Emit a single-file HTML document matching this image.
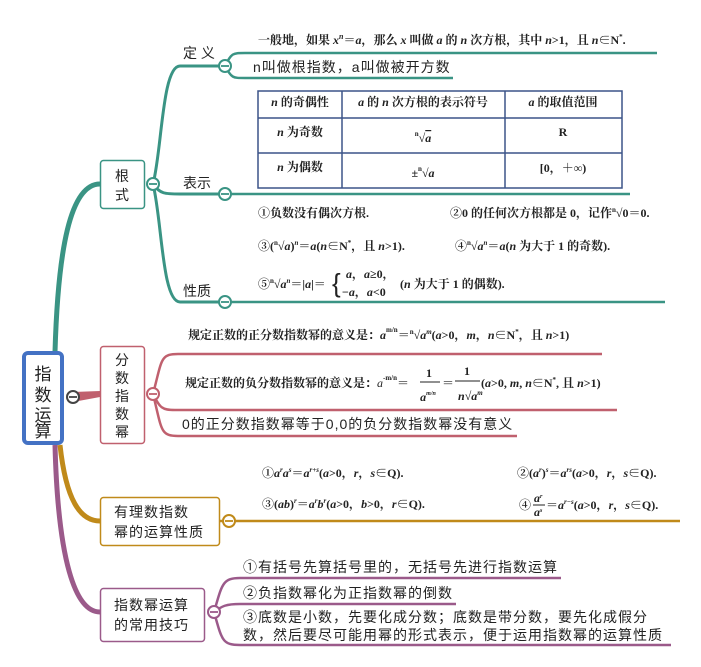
<!DOCTYPE html>
<html><head><meta charset="utf-8"><style>
html,body{margin:0;padding:0;background:#fff;}
svg{display:block;}
text{font-family:"Liberation Sans","Noto Sans CJK SC",sans-serif;fill:#222;}
.s{font-family:"Liberation Serif","Noto Serif CJK SC",serif;font-weight:bold;font-size:12px;}
.n{font-size:14px;letter-spacing:1px;}
</style></head><body>
<svg width="701" height="667" viewBox="0 0 701 667" xmlns="http://www.w3.org/2000/svg">
<!-- main branches -->
<path d="M55 352 C58 250 70 184 100 184" stroke="#3a9484" stroke-width="5" fill="none"/>
<path d="M60 445 C66 500 80 521 100 521" stroke="#c08a1a" stroke-width="5" fill="none"/>
<path d="M55 445 C58 560 75 612 100 612" stroke="#9b5a8a" stroke-width="5" fill="none"/>
<path d="M73 392 L100 391 L100 397 L73 402 Z" fill="#c0606e"/>

<!-- 根式 sub-branches -->
<g stroke="#3a9484" stroke-width="3" fill="none">
<path d="M153 184 C162 150 162 66 180 66 L225 66"/>
<path d="M153 184 C160 194 165 194 180 194 L225 194"/>
<path d="M153 184 C162 220 162 302 180 302 L225 302"/>
<path d="M225 66 C232 53 232 53 245 53 L657 53" stroke-width="2.5"/>
<path d="M225 66 C232 78 232 78 245 78 L453 78" stroke-width="2.5"/>
<path d="M225 194 L630 194" stroke-width="2.5"/>
<path d="M225 302 L665 302" stroke-width="2.5"/>
</g>
<!-- 分数指数幂 -->
<g stroke="#c0606e" stroke-width="2.5" fill="none">
<path d="M153 394 C162 360 160 354 178 354 L602 354"/>
<path d="M153 394 C160 408 162 410 175 410 L617 410"/>
<path d="M153 394 C162 430 160 436 178 436 L517 436"/>
</g>
<!-- 有理数 -->
<path d="M219 521 L680 521" stroke="#c08a1a" stroke-width="2.5"/>
<!-- 技巧 -->
<g stroke="#9b5a8a" stroke-width="2.5" fill="none">
<path d="M214 612 C222 585 222 578 240 578 L561 578"/>
<path d="M214 612 C222 606 226 604 240 604 L456 604"/>
<path d="M214 612 C222 640 222 645 240 645 L671 645"/>
</g>

<!-- boxes -->
<rect x="24" y="353" width="38" height="90" rx="4" fill="#fff" stroke="#4472c4" stroke-width="4"/>
<text x="43" y="380" text-anchor="middle" font-size="17">指</text>
<text x="43" y="401" text-anchor="middle" font-size="17">数</text>
<text x="43" y="421" text-anchor="middle" font-size="17">运</text>
<text x="43" y="441" text-anchor="middle" font-size="17" dy="-4">算</text>

<rect x="100.5" y="160.5" width="44" height="48" rx="3" fill="#fff" stroke="#3a9484" stroke-width="1.5"/>
<text x="122" y="181" text-anchor="middle" font-size="14">根</text>
<text x="122" y="200" text-anchor="middle" font-size="14">式</text>

<rect x="100.5" y="346.5" width="44" height="97" rx="3" fill="#fff" stroke="#c0606e" stroke-width="1.5"/>
<text x="122" y="365" text-anchor="middle" font-size="14">分</text>
<text x="122" y="383" text-anchor="middle" font-size="14">数</text>
<text x="122" y="401" text-anchor="middle" font-size="14">指</text>
<text x="122" y="419" text-anchor="middle" font-size="14">数</text>
<text x="122" y="437" text-anchor="middle" font-size="14">幂</text>

<rect x="100.5" y="497.5" width="119" height="48" rx="3" fill="#fff" stroke="#c08a1a" stroke-width="1.5"/>
<text x="114" y="517" class="n">有理数指数</text>
<text x="114" y="537" class="n">幂的运算性质</text>

<rect x="100.5" y="588.5" width="104" height="53" rx="3" fill="#fff" stroke="#9b5a8a" stroke-width="1.5"/>
<text x="114" y="610" class="n">指数幂运算</text>
<text x="114" y="630" class="n">的常用技巧</text>

<!-- circles -->
<g stroke-width="2" fill="#fff">
<circle cx="73" cy="397" r="6" stroke="#444"/>
<circle cx="153" cy="184" r="6" stroke="#3a9484"/>
<circle cx="225" cy="66" r="6" stroke="#3a9484"/>
<circle cx="225" cy="194" r="6" stroke="#3a9484"/>
<circle cx="225" cy="302" r="6" stroke="#3a9484"/>
<circle cx="153" cy="394" r="6" stroke="#c0606e"/>
<circle cx="229" cy="521" r="6" stroke="#c08a1a"/>
<circle cx="214" cy="612" r="6" stroke="#9b5a8a"/>
</g>
<g stroke-width="1.8">
<line x1="69" y1="397" x2="77" y2="397" stroke="#444"/>
<line x1="149" y1="184" x2="157" y2="184" stroke="#3a9484"/>
<line x1="221" y1="66" x2="229" y2="66" stroke="#3a9484"/>
<line x1="221" y1="194" x2="229" y2="194" stroke="#3a9484"/>
<line x1="221" y1="302" x2="229" y2="302" stroke="#3a9484"/>
<line x1="149" y1="394" x2="157" y2="394" stroke="#c0606e"/>
<line x1="225" y1="521" x2="233" y2="521" stroke="#c08a1a"/>
<line x1="210" y1="612" x2="218" y2="612" stroke="#9b5a8a"/>
</g>

<!-- 根式 labels -->
<text x="183" y="58" font-size="14">定 义</text>
<text x="183" y="188" font-size="14">表示</text>
<text x="183" y="296" font-size="14">性质</text>

<text x="258" y="44" class="s">一般地，如果 <tspan font-style="italic">x<tspan font-size="8" dy="-5">n</tspan></tspan><tspan dy="5">＝</tspan><tspan font-style="italic">a</tspan>，那么 <tspan font-style="italic">x</tspan> 叫做 <tspan font-style="italic">a</tspan> 的 <tspan font-style="italic">n</tspan> 次方根，其中 <tspan font-style="italic">n</tspan>&gt;1，且 <tspan font-style="italic">n</tspan>∈N<tspan font-size="7" dy="-5">*</tspan><tspan dy="5">.</tspan></text>
<text x="253" y="72" class="n" font-size="14">n叫做根指数，a叫做被开方数</text>

<!-- table -->
<g stroke="#3c5488" stroke-width="1.5" fill="none">
<rect x="258" y="91" width="364" height="97"/>
<line x1="258" y1="118" x2="622" y2="118"/>
<line x1="258" y1="153" x2="622" y2="153"/>
<line x1="342" y1="91" x2="342" y2="188"/>
<line x1="505" y1="91" x2="505" y2="188"/>
</g>
<text x="300" y="106" text-anchor="middle" class="s"><tspan font-style="italic">n</tspan> 的奇偶性</text>
<text x="423" y="106" text-anchor="middle" class="s"><tspan font-style="italic">a</tspan> 的 <tspan font-style="italic">n</tspan> 次方根的表示符号</text>
<text x="563" y="106" text-anchor="middle" class="s"><tspan font-style="italic">a</tspan> 的取值范围</text>
<text x="300" y="136" text-anchor="middle" class="s"><tspan font-style="italic">n</tspan> 为奇数</text>
<text x="423" y="142" text-anchor="middle" class="s" font-size="11"><tspan font-size="7" dy="-6">n</tspan><tspan dy="6">√</tspan><tspan font-style="italic" text-decoration="overline">a</tspan></text>
<text x="563" y="136" text-anchor="middle" class="s">R</text>
<text x="300" y="171" text-anchor="middle" class="s"><tspan font-style="italic">n</tspan> 为偶数</text>
<text x="423" y="177" text-anchor="middle" class="s" font-size="11">±<tspan font-size="7" dy="-6">n</tspan><tspan dy="6">√</tspan><tspan font-style="italic">a</tspan></text>
<text x="563" y="172" text-anchor="middle" class="s">[0，＋∞)</text>

<text x="258" y="217" class="s">①负数没有偶次方根.</text>
<text x="450" y="217" class="s">②0 的任何次方根都是 0，记作<tspan font-size="7" dy="-5">n</tspan><tspan dy="5">√0＝0.</tspan></text>
<text x="258" y="250" class="s">③(<tspan font-size="7" dy="-5">n</tspan><tspan dy="5">√</tspan><tspan font-style="italic">a</tspan>)<tspan font-size="7" dy="-5" font-style="italic">n</tspan><tspan dy="5">＝</tspan><tspan font-style="italic">a</tspan>(<tspan font-style="italic">n</tspan>∈N<tspan font-size="7" dy="-5">*</tspan><tspan dy="5">，且 </tspan><tspan font-style="italic">n</tspan>&gt;1).</text>
<text x="455" y="250" class="s">④<tspan font-size="7" dy="-5">n</tspan><tspan dy="5">√</tspan><tspan font-style="italic">a<tspan font-size="7" dy="-5">n</tspan></tspan><tspan dy="5">＝</tspan><tspan font-style="italic">a</tspan>(<tspan font-style="italic">n</tspan> 为大于 1 的奇数).</text>
<text x="258" y="288" class="s">⑤<tspan font-size="7" dy="-5">n</tspan><tspan dy="5">√</tspan><tspan font-style="italic">a<tspan font-size="7" dy="-5">n</tspan></tspan><tspan dy="5">＝|</tspan><tspan font-style="italic">a</tspan>|＝</text>
<text x="332" y="292" font-size="26" font-family="Liberation Serif,serif">{</text>
<text x="346" y="278" class="s"><tspan font-style="italic">a</tspan>，<tspan font-style="italic">a</tspan>≥0，</text>
<text x="342" y="296" class="s">−<tspan font-style="italic">a</tspan>，<tspan font-style="italic">a</tspan>&lt;0</text>
<text x="400" y="288" class="s">(<tspan font-style="italic">n</tspan> 为大于 1 的偶数).</text>

<!-- 分数指数幂 texts -->
<text x="188" y="339" class="s">规定正数的正分数指数幂的意义是：<tspan font-style="italic">a</tspan><tspan font-size="7" dy="-7">m/n</tspan><tspan dy="7">＝</tspan><tspan font-size="7" dy="-5">n</tspan><tspan dy="5">√</tspan><tspan font-style="italic">a<tspan font-size="7" dy="-5">m</tspan></tspan><tspan dy="5">(</tspan><tspan font-style="italic">a</tspan>&gt;0，<tspan font-style="italic">m</tspan>，<tspan font-style="italic">n</tspan>∈N<tspan font-size="7" dy="-5">*</tspan><tspan dy="5">，且 </tspan><tspan font-style="italic">n</tspan>&gt;1)</text>
<text x="185" y="387" class="s">规定正数的负分数指数幂的意义是：<tspan font-style="italic" font-weight="normal">a</tspan><tspan font-size="7" dy="-7">-m/n</tspan><tspan dy="7">＝</tspan></text>
<text x="429" y="377" class="s" text-anchor="middle">1</text>
<line x1="420" y1="382" x2="440" y2="382" stroke="#222" stroke-width="1"/>
<text x="428" y="401" class="s" text-anchor="middle" font-weight="normal" font-style="italic">a<tspan font-size="6" dy="-6">m/n</tspan></text>
<text x="442" y="387" class="s">＝</text>
<text x="467" y="375" class="s" text-anchor="middle">1</text>
<line x1="455" y1="381" x2="480" y2="381" stroke="#222" stroke-width="1"/>
<text x="458" y="400" class="s" font-size="11"><tspan font-style="italic">n</tspan>√<tspan font-style="italic">a<tspan font-size="7" dy="-5">m</tspan></tspan></text>
<text x="481" y="387" class="s">(<tspan font-style="italic">a</tspan>&gt;0, <tspan font-style="italic">m</tspan>, <tspan font-style="italic">n</tspan>∈N<tspan font-size="7" dy="-5">*</tspan><tspan dy="5">, 且 </tspan><tspan font-style="italic">n</tspan>&gt;1)</text>
<text x="182" y="429" class="n">0的正分数指数幂等于0,0的负分数指数幂没有意义</text>

<!-- 有理数 texts -->
<text x="262" y="477" class="s">①<tspan font-style="italic">a<tspan font-size="7" dy="-5">r</tspan><tspan dy="5">a</tspan><tspan font-size="7" dy="-5">s</tspan></tspan><tspan dy="5">＝</tspan><tspan font-style="italic">a<tspan font-size="7" dy="-5">r+s</tspan></tspan><tspan dy="5">(</tspan><tspan font-style="italic">a</tspan>&gt;0，<tspan font-style="italic">r</tspan>，<tspan font-style="italic">s</tspan>∈Q).</text>
<text x="517" y="477" class="s">②(<tspan font-style="italic">a<tspan font-size="7" dy="-5">r</tspan></tspan><tspan dy="5">)</tspan><tspan font-size="7" dy="-5" font-style="italic">s</tspan><tspan dy="5">＝</tspan><tspan font-style="italic">a<tspan font-size="7" dy="-5">rs</tspan></tspan><tspan dy="5">(</tspan><tspan font-style="italic">a</tspan>&gt;0，<tspan font-style="italic">r</tspan>，<tspan font-style="italic">s</tspan>∈Q).</text>
<text x="262" y="508" class="s">③(<tspan font-style="italic">ab</tspan>)<tspan font-size="7" dy="-5" font-style="italic">r</tspan><tspan dy="5">＝</tspan><tspan font-style="italic">a<tspan font-size="7" dy="-5">r</tspan><tspan dy="5">b</tspan><tspan font-size="7" dy="-5">r</tspan></tspan><tspan dy="5">(</tspan><tspan font-style="italic">a</tspan>&gt;0，<tspan font-style="italic">b</tspan>&gt;0，<tspan font-style="italic">r</tspan>∈Q).</text>
<text x="519" y="509" class="s">④</text>
<text x="534" y="502" class="s" font-size="10" font-style="italic">a<tspan font-size="6" dy="-4">r</tspan></text>
<line x1="533" y1="505" x2="545" y2="505" stroke="#222" stroke-width="1"/>
<text x="534" y="516" class="s" font-size="10" font-style="italic">a<tspan font-size="6" dy="-4">s</tspan></text>
<text x="546" y="509" class="s">＝<tspan font-style="italic">a<tspan font-size="7" dy="-5">r−s</tspan></tspan><tspan dy="5">(</tspan><tspan font-style="italic">a</tspan>&gt;0，<tspan font-style="italic">r</tspan>，<tspan font-style="italic">s</tspan>∈Q).</text>

<!-- 技巧 texts -->
<text x="243" y="572" class="n">①有括号先算括号里的，无括号先进行指数运算</text>
<text x="243" y="598" class="n">②负指数幂化为正指数幂的倒数</text>
<text x="243" y="622" class="n">③底数是小数，先要化成分数；底数是带分数，要先化成假分</text>
<text x="243" y="640" class="n">数，然后要尽可能用幂的形式表示，便于运用指数幂的运算性质</text>
</svg>
</body></html>
